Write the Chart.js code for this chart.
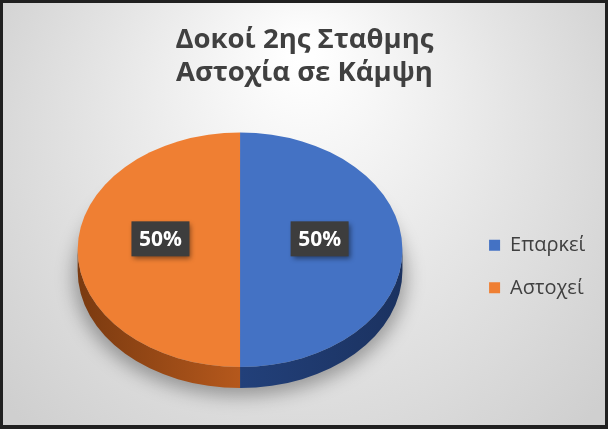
<!DOCTYPE html>
<html><head><meta charset="utf-8">
<script src="https://cdn.jsdelivr.net/npm/chart.js@4/dist/chart.umd.min.js"></script>
<style>
html,body{margin:0;padding:0;background:#1c1c1c;overflow:hidden;}
canvas{display:block;}
</style></head><body>
<canvas id="c" width="608" height="429"></canvas>
<script>
const titleLines = ['Δοκοί 2ης Σταθμης', 'Αστοχία σε Κάμψη'];
const categories = ['Επαρκεί', 'Αστοχεί'];
const values = [50, 50];
const topColors = ['#4472C4', '#EF7F33'];
const sideColors = [['#1B3260', '#22407A'], ['#7A3A10', '#B5581C']];

const bgPlugin = {
  id: 'bg',
  beforeDraw(chart) {
    const ctx = chart.ctx, w = chart.width, h = chart.height;
    ctx.save();
    ctx.fillStyle = '#202020';
    ctx.fillRect(0, 0, w, h);
    const g = ctx.createRadialGradient(w * 0.5, h * 0.12, 10, w * 0.5, h * 0.4, w * 0.62);
    g.addColorStop(0, '#ffffff');
    g.addColorStop(0.55, '#e4e4e4');
    g.addColorStop(1, '#cfcfcf');
    ctx.fillStyle = g;
    ctx.fillRect(3, 3, w - 6, h - 7);
    ctx.restore();
  }
};

function clipRanges(a0, a1) {
  const out = [];
  for (let k = -1; k <= 1; k++) {
    const s = Math.max(a0, k * 2 * Math.PI), e = Math.min(a1, k * 2 * Math.PI + Math.PI);
    if (e > s) out.push([s, e]);
  }
  return out;
}

const pie3d = {
  id: 'pie3d',
  beforeDatasetsDraw(chart, args, opts) {
    const arcs = chart.getDatasetMeta(0).data;
    if (!arcs.length) return;
    const ctx = chart.ctx;
    const cx = arcs[0].x, cy = arcs[0].y, r = arcs[0].outerRadius;
    const ry = r * opts.tilt, d = opts.depth;
    const topY = cy - opts.lift;
    ctx.save();
    ctx.filter = 'blur(9px)';
    ctx.fillStyle = 'rgba(0,0,0,0.32)';
    ctx.beginPath();
    ctx.ellipse(cx, topY + d + 6, r + 4, ry + 2, 0, 0, 2 * Math.PI);
    ctx.fill();
    ctx.restore();
    ctx.save();
    arcs.forEach((a, i) => {
      clipRanges(a.startAngle, a.endAngle).forEach(([s, e]) => {
        const x0 = cx + r * Math.cos(s), x1 = cx + r * Math.cos(e);
        const g = ctx.createLinearGradient(Math.min(x0, x1), 0, Math.max(x0, x1), 0);
        const sc = sideColors[i];
        const leftSide = Math.cos((s + e) / 2) < 0;
        g.addColorStop(0, leftSide ? sc[0] : sc[1]);
        g.addColorStop(1, leftSide ? sc[1] : sc[0]);
        ctx.fillStyle = g;
        ctx.beginPath();
        ctx.ellipse(cx, topY, r, ry, 0, s, e, false);
        ctx.ellipse(cx, topY + d, r, ry, 0, e, s, true);
        ctx.closePath();
        ctx.fill();
      });
    });
    ctx.restore();
    ctx.save();
    ctx.translate(cx, topY);
    ctx.scale(1, opts.tilt);
    ctx.translate(-cx, -cy);
  },
  afterDatasetsDraw(chart, args, opts) {
    const arcs = chart.getDatasetMeta(0).data;
    if (!arcs.length) return;
    const ctx = chart.ctx;
    ctx.restore();
    const cx = arcs[0].x, cy = arcs[0].y, r = arcs[0].outerRadius;
    const topY = cy - opts.lift;
    const total = values.reduce((p, c) => p + c, 0);
    ctx.save();
    ctx.font = 'bold 21px "Open Sans"';
    ctx.textAlign = 'center';
    ctx.textBaseline = 'middle';
    arcs.forEach((a, i) => {
      const mid = (a.startAngle + a.endAngle) / 2;
      const px = cx + Math.cos(mid) * r * opts.labelRadius;
      const py = topY + Math.sin(mid) * r * opts.labelRadius * opts.tilt - opts.labelLift;
      const txt = Math.round(values[i] / total * 100) + '%';
      const bw = 58, bh = 35;
      ctx.save();
      ctx.shadowColor = 'rgba(0,0,0,0.45)';
      ctx.shadowBlur = 5;
      ctx.shadowOffsetX = 2;
      ctx.shadowOffsetY = 3;
      ctx.fillStyle = '#3d3d3d';
      ctx.fillRect(px - bw / 2, py - bh / 2, bw, bh);
      ctx.restore();
      ctx.fillStyle = '#ffffff';
      ctx.fillText(txt, px, py + 1);
    });
    ctx.restore();
  }
};

new Chart(document.getElementById('c'), {
  type: 'pie',
  data: {
    labels: categories,
    datasets: [{ data: values, backgroundColor: topColors, borderWidth: 0 }]
  },
  plugins: [bgPlugin, pie3d],
  options: {
    responsive: false,
    animation: false,
    events: [],
    layout: { padding: { left: 13.5, right: 12.7, top: 0, bottom: 0 } },
    plugins: {
      pie3d: { tilt: 0.722, depth: 21, lift: 16.75, labelRadius: 0.49, labelLift: 11 },
      title: {
        display: true,
        text: titleLines,
        color: '#404040',
        font: { family: '"Open Sans"', size: 27.5, weight: 'bold', lineHeight: 33.6 / 27.5 },
        padding: { top: 23, bottom: 14 }
      },
      legend: {
        position: 'right',
        fullSize: false,
        labels: {
          color: '#404040',
          font: { family: '"Open Sans"', size: 20 },
          boxWidth: 11, boxHeight: 11, padding: 22.5
        }
      },
      tooltip: { enabled: false }
    }
  }
});
</script>
</body></html>
